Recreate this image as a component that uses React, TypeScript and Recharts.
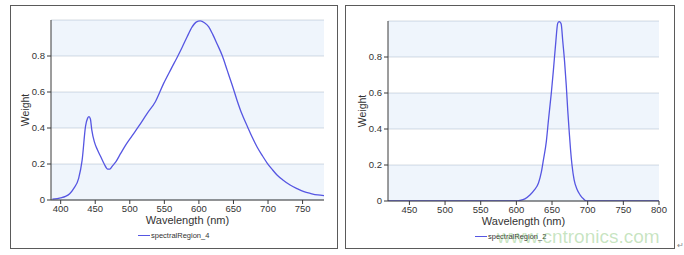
import { LineChart, Line, XAxis, YAxis, CartesianGrid, ReferenceArea, Label } from "recharts";

/* ---------- data ---------- */

// panel 1 : spectralRegion_4 (white LED, blue pump + phosphor)
const region4Nm = [
  388, 400, 407, 413, 419, 426, 431, 436, 439, 441, 443, 445, 449, 453, 458, 463, 468, 471,
  475, 480, 487, 494, 503, 513, 525, 537, 549, 560, 569, 576, 583, 590, 596, 602, 608, 614,
  620, 626, 634, 641, 648, 655, 662, 670, 677, 684, 692, 699, 706, 713, 722, 732, 742, 752,
  762, 772, 781,
];
const region4Weight = [
  0.005, 0.012, 0.02, 0.035, 0.065, 0.12, 0.22, 0.41, 0.455, 0.463, 0.45, 0.39, 0.32, 0.28,
  0.24, 0.2, 0.172, 0.172, 0.19, 0.213, 0.26, 0.305, 0.355, 0.41, 0.48, 0.546, 0.648, 0.73,
  0.796, 0.85, 0.907, 0.96, 0.988, 0.995, 0.985, 0.963, 0.92, 0.87, 0.8, 0.72, 0.64, 0.556,
  0.48, 0.41, 0.35, 0.296, 0.245, 0.204, 0.17, 0.139, 0.11, 0.083, 0.063, 0.046, 0.036,
  0.028, 0.024,
];

// panel 2 : spectralRegion_2 (red LED)
const region2Nm = [
  420, 450, 500, 550, 600, 605, 612, 619, 625, 631, 635, 638, 642, 645, 649, 652, 655, 658,
  660, 662, 663, 665, 667.5, 670, 672, 674, 676, 678, 681, 685, 689.5, 694, 698, 750, 800,
];
const region2Weight = [
  0, 0, 0, 0, 0, 0.003, 0.012, 0.033, 0.06, 0.1, 0.16, 0.23, 0.33, 0.45, 0.6, 0.73, 0.87,
  0.987, 0.996, 0.99, 0.98, 0.89, 0.78, 0.64, 0.506, 0.39, 0.283, 0.2, 0.117, 0.065, 0.033,
  0.012, 0, 0, 0,
];

const weightTicks = [0, 0.2, 0.4, 0.6, 0.8];
const bands = [
  [0, 0.2],
  [0.4, 0.6],
  [0.8, 1],
];
const region4Ticks = [400, 450, 500, 550, 600, 650, 700, 750];
const region2Ticks = [450, 500, 550, 600, 650, 700, 750, 800];

const toRows = (nm: number[], w: number[]) => nm.map((v, i) => ({ nm: v, weight: w[i] }));

/* ---------- styles ---------- */

const FONT = '"Liberation Sans", Arial, sans-serif';
const LINE_COLOR = "#5656e2";
const AXIS_COLOR = "#3a3a3a";
const tickStyle = { fill: "#333", fontSize: 9.5, fontFamily: FONT };

// rotated "Weight" title, placed just left of the tick labels
const WeightTitle = (props: any) => {
  const vb = props.viewBox || { x: 0, y: 0, width: 0, height: 0 };
  const cx = vb.x + vb.width - 26;
  const cy = vb.y + vb.height / 2;
  return (
    <text
      x={cx}
      y={cy}
      transform={`rotate(-90, ${cx}, ${cy})`}
      textAnchor="middle"
      dominantBaseline="central"
      fill="#333"
      fontSize={10.5}
      fontFamily={FONT}
    >
      Weight
    </text>
  );
};

type PanelProps = {
  rows: { nm: number; weight: number }[];
  domain: [number, number];
  ticks: number[];
  name: string;
  box: { left: number; top: number; width: number; height: number };
  margin: { top: number; right: number; left: number; bottom: number };
  legendAt: { left: number; top: number };
};

function SpectrumPanel({ rows, domain, ticks, name, box, margin, legendAt }: PanelProps) {
  return (
    <>
      <div
        style={{
          position: "absolute",
          left: box.left,
          top: box.top,
          width: box.width,
          height: box.height,
          border: "1px solid #5a5a5a",
          boxSizing: "border-box",
          background: "#fff",
        }}
      >
        <LineChart width={box.width - 2} height={box.height - 2} data={rows} margin={margin}>
          <CartesianGrid vertical={false} stroke="#d6dce3" />
          {bands.map(([a, b]) => (
            <ReferenceArea
              key={a}
              y1={a}
              y2={b}
              fill="#4a90e2"
              fillOpacity={0.09}
              stroke="none"
              ifOverflow="hidden"
            />
          ))}
          <XAxis
            dataKey="nm"
            type="number"
            domain={domain}
            ticks={ticks}
            allowDataOverflow
            height={24}
            tick={tickStyle}
            tickSize={4}
            tickMargin={1}
            axisLine={{ stroke: AXIS_COLOR }}
            tickLine={{ stroke: AXIS_COLOR }}
          >
            <Label
              value="Wavelength (nm)"
              position="insideBottom"
              offset={0}
              fill="#333"
              fontSize={11}
              fontFamily={FONT}
            />
          </XAxis>
          <YAxis
            type="number"
            domain={[0, 1]}
            ticks={weightTicks}
            allowDataOverflow
            width={30}
            tick={tickStyle}
            tickSize={4}
            tickMargin={2}
            axisLine={{ stroke: AXIS_COLOR }}
            tickLine={{ stroke: AXIS_COLOR }}
            label={<Label content={<WeightTitle />} />}
          />
          <Line
            type="monotone"
            dataKey="weight"
            stroke={LINE_COLOR}
            strokeWidth={1.3}
            dot={false}
            isAnimationActive={false}
          />
        </LineChart>
      </div>
      {/* legend */}
      <div
        style={{
          position: "absolute",
          left: legendAt.left,
          top: legendAt.top,
          display: "flex",
          alignItems: "center",
          fontFamily: FONT,
          fontSize: 7.5,
          color: "#333",
          whiteSpace: "nowrap",
        }}
      >
        <span style={{ display: "inline-block", width: 12, height: 1.3, background: LINE_COLOR, marginRight: 1 }} />
        {name}
      </div>
    </>
  );
}

export default function App() {
  return (
    <div style={{ position: "absolute", left: 0, top: 0, width: 684, height: 255, background: "#fff", overflow: "hidden" }}>
      <SpectrumPanel
        rows={toRows(region4Nm, region4Weight)}
        domain={[386, 781]}
        ticks={region4Ticks}
        name="spectralRegion_4"
        box={{ left: 10, top: 5, width: 328, height: 244 }}
        margin={{ top: 14, right: 13, left: 10, bottom: 24 }}
        legendAt={{ left: 138, top: 231 }}
      />
      <SpectrumPanel
        rows={toRows(region2Nm, region2Weight)}
        domain={[420, 800]}
        ticks={region2Ticks}
        name="spectralRegion_2"
        box={{ left: 345, top: 5, width: 330, height: 244 }}
        margin={{ top: 15, right: 15, left: 12, bottom: 23 }}
        legendAt={{ left: 475, top: 232 }}
      />
      {/* source watermark */}
      <div
        style={{
          position: "absolute",
          left: 497,
          top: 226,
          fontFamily: FONT,
          fontSize: 19,
          color: "rgba(110, 185, 90, 0.38)",
          whiteSpace: "nowrap",
        }}
      >
        www.cntronics.com
      </div>
      <div style={{ position: "absolute", left: 677, top: 241, fontSize: 8, color: "#888", fontFamily: FONT }}>↵</div>
    </div>
  );
}
